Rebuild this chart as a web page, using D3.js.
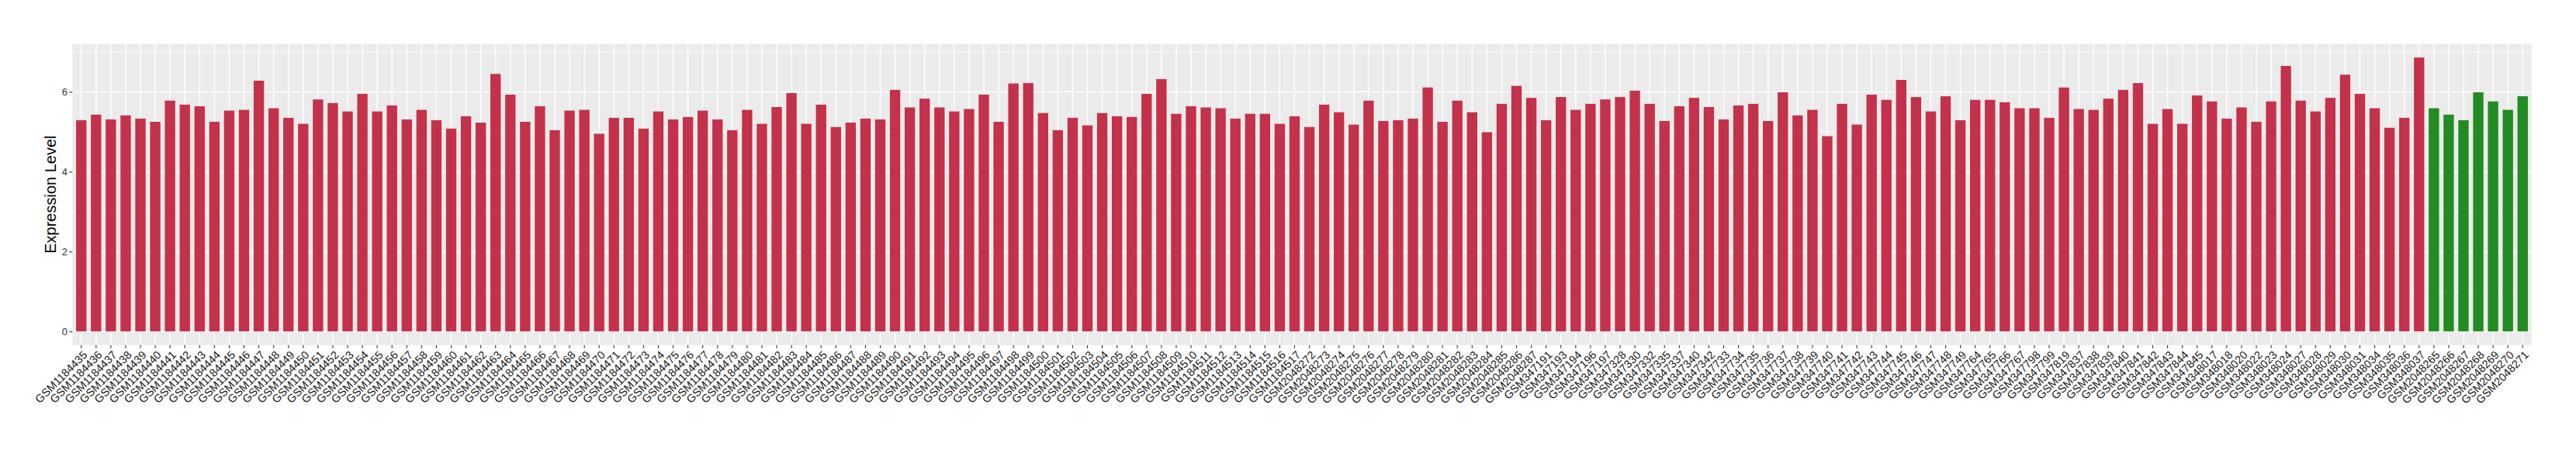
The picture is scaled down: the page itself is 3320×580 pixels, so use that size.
<!DOCTYPE html>
<html>
<head>
<meta charset="utf-8">
<script src="https://cdn.jsdelivr.net/npm/d3@7"></script>
<style>
  html, body { margin: 0; padding: 0; background: #fff; }
  text { font-family: "Liberation Sans", Arial, Helvetica, sans-serif; }
</style>
</head>
<body>
<script>
// samples in the first (red) group, in plotting order
const samplesRed = [
  "GSM1184435","GSM1184436","GSM1184437","GSM1184438","GSM1184439","GSM1184440","GSM1184441","GSM1184442","GSM1184443","GSM1184444",
  "GSM1184445","GSM1184446","GSM1184447","GSM1184448","GSM1184449","GSM1184450","GSM1184451","GSM1184452","GSM1184453","GSM1184454",
  "GSM1184455","GSM1184456","GSM1184457","GSM1184458","GSM1184459","GSM1184460","GSM1184461","GSM1184462","GSM1184463","GSM1184464",
  "GSM1184465","GSM1184466","GSM1184467","GSM1184468","GSM1184469","GSM1184470","GSM1184471","GSM1184472","GSM1184473","GSM1184474",
  "GSM1184475","GSM1184476","GSM1184477","GSM1184478","GSM1184479","GSM1184480","GSM1184481","GSM1184482","GSM1184483","GSM1184484",
  "GSM1184485","GSM1184486","GSM1184487","GSM1184488","GSM1184489","GSM1184490","GSM1184491","GSM1184492","GSM1184493","GSM1184494",
  "GSM1184495","GSM1184496","GSM1184497","GSM1184498","GSM1184499","GSM1184500","GSM1184501","GSM1184502","GSM1184503","GSM1184504",
  "GSM1184505","GSM1184506","GSM1184507","GSM1184508","GSM1184509","GSM1184510","GSM1184511","GSM1184512","GSM1184513","GSM1184514",
  "GSM1184515","GSM1184516","GSM1184517",
  "GSM2048272","GSM2048273","GSM2048274","GSM2048275","GSM2048276","GSM2048277","GSM2048278","GSM2048279","GSM2048280","GSM2048281",
  "GSM2048282","GSM2048283","GSM2048284","GSM2048285","GSM2048286","GSM2048287",
  "GSM347191","GSM347193","GSM347194","GSM347196","GSM347197","GSM347328","GSM347330","GSM347332","GSM347335","GSM347337",
  "GSM347340","GSM347342",
  "GSM347733","GSM347734","GSM347735","GSM347736","GSM347737","GSM347738","GSM347739","GSM347740","GSM347741","GSM347742",
  "GSM347743","GSM347744","GSM347745","GSM347746","GSM347747","GSM347748","GSM347749",
  "GSM347764","GSM347765","GSM347766","GSM347767","GSM347798","GSM347799","GSM347819","GSM347837","GSM347838","GSM347839",
  "GSM347840","GSM347841","GSM347842","GSM347843","GSM347844","GSM347845",
  "GSM348017","GSM348018","GSM348020","GSM348022","GSM348023","GSM348024","GSM348027","GSM348028","GSM348029","GSM348030",
  "GSM348031","GSM348034","GSM348035","GSM348036","GSM348037"
];
const valuesRed = [
  5.29,5.43,5.31,5.41,5.33,5.25,5.78,5.68,5.64,5.25,
  5.53,5.55,6.28,5.59,5.35,5.20,5.81,5.72,5.51,5.95,
  5.51,5.66,5.31,5.55,5.29,5.08,5.39,5.23,6.45,5.93,
  5.25,5.64,5.04,5.53,5.55,4.95,5.35,5.35,5.08,5.51,
  5.31,5.37,5.53,5.31,5.04,5.55,5.20,5.62,5.97,5.20,
  5.68,5.12,5.23,5.33,5.31,6.05,5.61,5.83,5.61,5.51,
  5.57,5.93,5.25,6.21,6.22,5.47,5.04,5.35,5.16,5.47,
  5.39,5.37,5.95,6.32,5.45,5.64,5.61,5.59,5.33,5.45,
  5.45,5.20,5.39,
  5.12,5.68,5.49,5.18,5.78,5.27,5.29,5.33,6.11,5.25,
  5.78,5.49,4.99,5.70,6.15,5.85,
  5.29,5.87,5.55,5.70,5.81,5.87,6.03,5.70,5.27,5.64,
  5.85,5.62,
  5.31,5.66,5.70,5.27,5.99,5.41,5.55,4.89,5.70,5.18,
  5.93,5.80,6.30,5.87,5.51,5.89,5.29,
  5.80,5.80,5.74,5.59,5.59,5.35,6.11,5.57,5.55,5.83,
  6.05,6.22,5.20,5.57,5.20,5.91,
  5.76,5.33,5.61,5.25,5.76,6.65,5.78,5.51,5.85,6.43,
  5.95,5.59,5.10,5.35,6.86
];

// samples in the second (green) group
const samplesGreen = ["GSM2048265","GSM2048266","GSM2048267","GSM2048268","GSM2048269","GSM2048270","GSM2048271"];
const valuesGreen = [5.59,5.43,5.29,5.99,5.76,5.55,5.89];

const yTicks = [0, 2, 4, 6];
const yMinorTicks = [1, 3, 5, 7];
const yTitle = "Expression Level";

const data = [
  ...samplesRed.map((s, i) => ({sample: s, value: valuesRed[i], group: "red"})),
  ...samplesGreen.map((s, i) => ({sample: s, value: valuesGreen[i], group: "green"}))
];

const width = 3320;
const height = 580;
const panel = {left: 93.3, right: 3262.7, top: 56.5, bottom: 444.8};

const colour = {red: "#C3324A", green: "#228B22"};

// ggplot style 5% expansion on the continuous axis
const yMax = d3.max(data, d => d.value);
const pad = yMax * 0.05;

const y = d3.scaleLinear()
            .domain([-pad, yMax + pad])
            .range([panel.bottom, panel.top]);

const x = d3.scaleBand()
            .domain(data.map(d => d.sample))
            .range([panel.left, panel.right])
            .paddingInner(0.3)
            .paddingOuter(0.25);

const svg = d3.select("body")
              .append("svg")
              .attr("width", width)
              .attr("height", height);

svg.append("rect")
   .attr("width", width)
   .attr("height", height)
   .attr("fill", "#fff");

// panel background
svg.append("rect")
   .attr("x", panel.left)
   .attr("y", panel.top)
   .attr("width", panel.right - panel.left)
   .attr("height", panel.bottom - panel.top)
   .attr("fill", "#EBEBEB");

const grid = svg.append("g").attr("stroke", "#fff");

grid.selectAll(".minor")
    .data(yMinorTicks)
    .join("line")
    .attr("x1", panel.left).attr("x2", panel.right)
    .attr("y1", d => y(d)).attr("y2", d => y(d))
    .attr("stroke-width", 0.7);

grid.selectAll(".major")
    .data(yTicks)
    .join("line")
    .attr("x1", panel.left).attr("x2", panel.right)
    .attr("y1", d => y(d)).attr("y2", d => y(d))
    .attr("stroke-width", 1.4);

grid.selectAll(".vmajor")
    .data(data)
    .join("line")
    .attr("x1", d => x(d.sample) + x.bandwidth() / 2)
    .attr("x2", d => x(d.sample) + x.bandwidth() / 2)
    .attr("y1", panel.top).attr("y2", panel.bottom)
    .attr("stroke-width", 1.4);

// bars
svg.append("g")
   .selectAll("rect")
   .data(data)
   .join("rect")
   .attr("x", d => x(d.sample))
   .attr("width", x.bandwidth())
   .attr("y", d => y(d.value))
   .attr("height", d => y(0) - y(d.value))
   .attr("fill", d => colour[d.group]);

// y axis
const yAxis = svg.append("g")
                 .attr("transform", `translate(${panel.left},0)`)
                 .call(d3.axisLeft(y).tickValues(yTicks).tickSize(4).tickPadding(2.5));
yAxis.select(".domain").remove();
yAxis.selectAll(".tick line").attr("stroke", "#333").attr("stroke-width", 1.1);
yAxis.selectAll(".tick text")
     .attr("fill", "#333")
     .style("font-size", "12.9px")
     .style("font-family", "Liberation Sans, Arial, sans-serif");

// x axis
const xAxis = svg.append("g")
                 .attr("transform", `translate(0,${panel.bottom})`)
                 .call(d3.axisBottom(x).tickSize(4).tickPadding(2));
xAxis.select(".domain").remove();
xAxis.selectAll(".tick line").attr("stroke", "#333").attr("stroke-width", 1.1);
xAxis.selectAll(".tick text")
     .attr("fill", "#1a1a1a")
     .attr("text-anchor", "end")
     .attr("dy", "0.75em")
     .attr("transform", "translate(1,6) rotate(-45)")
     .attr("y", 0)
     .style("font-size", "14.4px")
     .style("font-family", "Liberation Sans, Arial, sans-serif");

// y title
svg.append("text")
   .attr("transform", `translate(72,${(panel.top + panel.bottom) / 2}) rotate(-90)`)
   .attr("text-anchor", "middle")
   .attr("fill", "#000")
   .style("font-size", "20px")
   .text(yTitle);
</script>
</body>
</html>
